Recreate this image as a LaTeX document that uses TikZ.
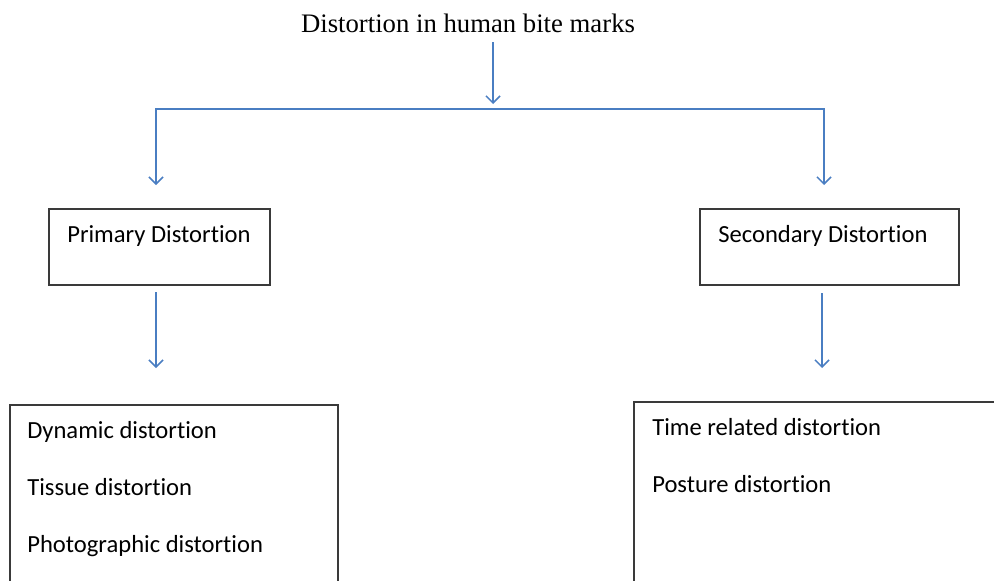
\documentclass[tikz,border=0pt]{standalone}
\usepackage{fontspec}
\setmainfont{Liberation Serif}
\newfontfamily\calibri[Ligatures=NoCommon, RawFeature=-liga]{Carlito}
\usetikzlibrary{arrows.meta, positioning, calc}
\definecolor{arr}{HTML}{4A7EC2}
\definecolor{bx}{HTML}{3A3A3A}

\begin{document}
\begin{tikzpicture}[x=0.025cm, y=-0.025cm,
    link/.style={arr, line width=1.1pt, -{Straight Barb[length=5pt, width=10pt]}},
    fork/.style={arr, line width=1.1pt, {Straight Barb[length=5pt, width=10pt]}-{Straight Barb[length=5pt, width=10pt]}},
    boxy/.style={draw=bx, line width=1.1pt, inner sep=0pt, outer sep=0pt, anchor=north west},
    lbl/.style={font=\calibri\fontsize{17.5}{21}\selectfont, anchor=base west, inner sep=0pt}]
  \useasboundingbox (0,0) rectangle (994,580);
  \clip (0,0) rectangle (994,580);

  % Title
  \node[font=\fontsize{19}{23}\selectfont, anchor=base, inner sep=0pt] (title) at (468,32) {Distortion in human bite marks};

  % Boxes
  \node[boxy, minimum width=5.525cm, minimum height=1.9cm] (prim) at (49,209) {};
  \node[boxy, minimum width=6.475cm, minimum height=1.9cm] (sec) at (700,209) {};
  \node[boxy, minimum width=8.2cm, minimum height=5cm] (plist) at (10,405) {};
  \node[boxy, minimum width=10cm, minimum height=5cm] (slist) at (634,402) {};

  % Box texts
  \node[lbl] (ptxt) at ($(prim.north west)+(18,33)$) {Primary Distortion};
  \node[lbl] (stxt) at ($(sec.north west)+(18,33)$) {Secondary Distortion};
  \node[lbl] (dyn) at ($(plist.north west)+(17,33)$) {Dynamic distortion};
  \node[lbl] (tis) at ($(plist.north west)+(17,90)$) {Tissue distortion};
  \node[lbl] (pho) at ($(plist.north west)+(17,147)$) {Photographic distortion};
  \node[lbl] (tim) at ($(slist.north west)+(18,33)$) {Time related distortion};
  \node[lbl] (pos) at ($(slist.north west)+(18,90)$) {Posture distortion};

  % Arrow ends
  \coordinate (t0) at (493,42);
  \coordinate (t1) at (493,104);
  \coordinate (hl) at (156,109);
  \coordinate (hr) at (824,109);
  \coordinate (pa) at (156,185);
  \coordinate (sa) at (824,185);
  \coordinate (pb0) at (156,292);
  \coordinate (pb1) at (156,368);
  \coordinate (sb0) at (822,293);
  \coordinate (sb1) at (822,368);

  % Arrows
  \draw[link] (t0) -- (t1);
  \draw[fork] (pa) -- (hl) -- (hr) -- (sa);
  \draw[link] (pb0) -- (pb1);
  \draw[link] (sb0) -- (sb1);
\end{tikzpicture}
\end{document}
